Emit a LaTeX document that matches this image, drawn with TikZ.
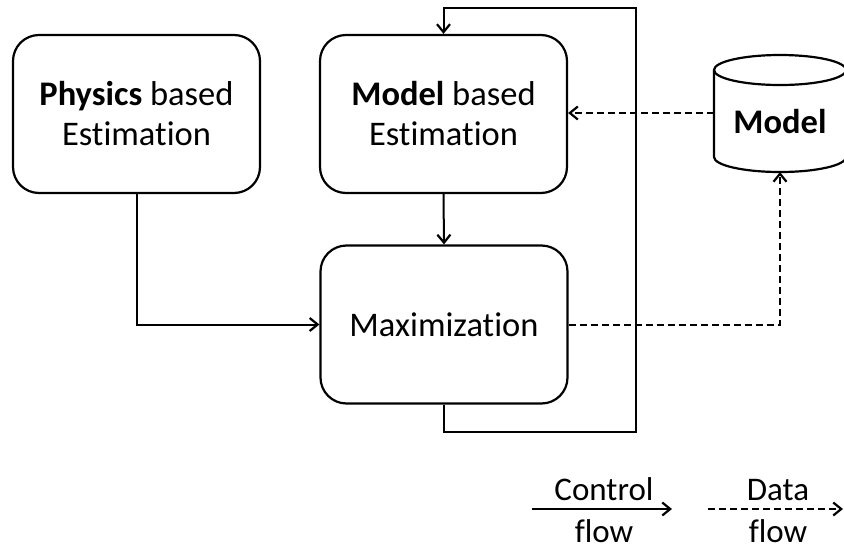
\documentclass[tikz,border=0pt]{standalone}
\usepackage{fontspec}
\setmainfont[Ligatures=NoCommon]{Carlito}
\usetikzlibrary{arrows.meta}
\begin{document}
\begin{tikzpicture}[x=1pt,y=-1pt,
  box/.style={draw, line width=2.2pt, rounded corners=26pt, minimum width=247pt, minimum height=158pt, align=center, font=\fontsize{34.5}{40}\selectfont, inner sep=0pt},
  ctrl/.style={line width=2pt, -{Straight Barb[length=8pt,width=13pt,line width=2.2pt]}},
  data/.style={ctrl, dash pattern=on 7pt off 4pt},
  lbl/.style={font=\fontsize{33}{40}\selectfont, anchor=base, inner sep=0pt}]
\useasboundingbox (0,0) rectangle (844,544);
\node[box] (phys) at (136.5,114) {\textbf{Physics} based\\Estimation};
\node[box] (mb) at (443.5,114) {\textbf{Model} based\\Estimation};
\node[box] (max) at (444,324.5) {Maximization};
% cylinder
\draw[line width=2.2pt] (714,70) -- (714,157) arc[start angle=180,end angle=360,x radius=66pt,y radius=15pt] -- (846,70);
\draw[line width=2.2pt] (780,70) ellipse [x radius=66pt, y radius=15pt];
\node[font=\fontsize{34.5}{40}\selectfont, inner sep=0pt] (model) at (780,122) {\textbf{Model}};
\coordinate (cylL) at (714,113);
\coordinate (cylB) at (780,172);
% connectors
\draw[ctrl] (phys.south) |- (max.west);
\draw[ctrl] (mb.south) -- (max.north);
\coordinate (lp1) at (636,432);
\coordinate (lp2) at (636,8);
\draw[ctrl] (max.south) |- (lp1) -- (lp2) -| (mb.north);
\draw[data] (cylL) -- (mb.east |- cylL);
\draw[data] (max.east) -| (cylB);
% legend
\node[lbl] (ctl) at (604,500) {Control};
\node[lbl] (cfl) at (604,542) {flow};
\coordinate (ca) at (532,509);
\coordinate (cb) at (672,509);
\draw[ctrl] (ca) -- (cb);
\node[lbl] (dtl) at (778,500) {Data};
\node[lbl] (dfl) at (778,542) {flow};
\coordinate (da) at (708,509);
\coordinate (db) at (843,509);
\draw[data] (da) -- (db);
\end{tikzpicture}
\end{document}
